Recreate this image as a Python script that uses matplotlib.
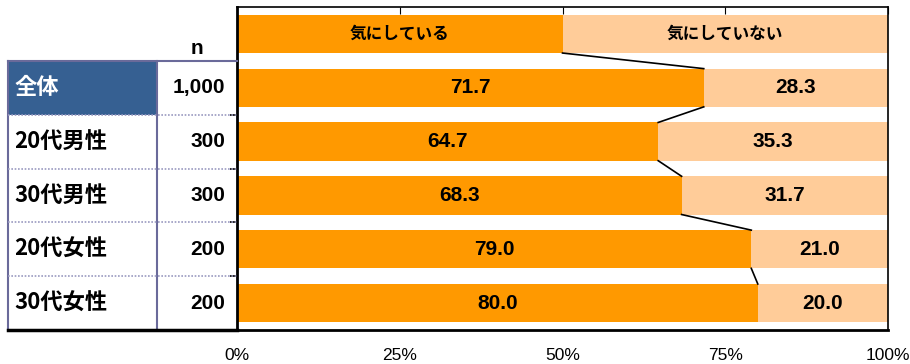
import matplotlib.pyplot as plt
from matplotlib.patches import Rectangle

groups = ["全体", "20代男性", "30代男性", "20代女性", "30代女性"]
n_counts = ["1,000", "300", "300", "200", "200"]
care = [71.7, 64.7, 68.3, 79.0, 80.0]
not_care = [28.3, 35.3, 31.7, 21.0, 20.0]
legend_labels = ["気にしている", "気にしていない"]
x_ticks = [0, 25, 50, 75, 100]

ORANGE = "#FF9900"
PEACH = "#FFCC99"
BORDER = "#6A6A9A"
HEAD_BLUE = "#366092"
JP = ["Noto Sans CJK JP", "DejaVu Sans"]
NARROW = ["Liberation Sans Narrow", "Liberation Sans", "DejaVu Sans"]

W, H = 910, 364
fig = plt.figure(figsize=(W / 100, H / 100), dpi=100)

left, right, top, bot = 237, 888, 7, 330
ax = fig.add_axes([left / W, 1 - bot / H, (right - left) / W, (bot - top) / H])
bh = 0.71

# header row doubles as the legend
ax.barh(0, 50, height=bh, color=ORANGE)
ax.barh(0, 50, left=50, height=bh, color=PEACH)
ax.text(25, 0, legend_labels[0], ha="center", va="center", family=JP,
        fontweight="bold", fontsize=12)
ax.text(75, 0, legend_labels[1], ha="center", va="center", family=JP,
        fontweight="bold", fontsize=12)

rows = range(1, len(groups) + 1)
ax.barh(list(rows), care, height=bh, color=ORANGE)
ax.barh(list(rows), not_care, left=care, height=bh, color=PEACH)
for r, a, b in zip(rows, care, not_care):
    ax.text(a / 2, r, f"{a:.1f}", ha="center", va="center", family=NARROW,
            fontweight="bold", fontsize=15)
    ax.text(a + b / 2, r, f"{b:.1f}", ha="center", va="center", family=NARROW,
            fontweight="bold", fontsize=15)

# connector lines between the split points
splits = [50] + care
for i in range(len(splits) - 1):
    ax.plot([splits[i], splits[i + 1]], [i + bh / 2, i + 1 - bh / 2],
            color="black", lw=1.2)

ax.set_xlim(0, 100)
ax.set_ylim(len(groups) + 0.5, -0.5)
ax.set_xticks(x_ticks)
ax.set_xticklabels([f"{t}%" for t in x_ticks], family=NARROW, fontsize=12.5)
ax.tick_params(axis="x", top=True, bottom=False, direction="in", length=5,
               labelbottom=True, pad=13)
ax.set_yticks([i + 0.5 for i in range(len(groups))])
ax.set_yticklabels([])
ax.tick_params(axis="y", direction="out", length=5, width=1.2)
ax.spines["left"].set_linewidth(2)
ax.spines["bottom"].set_linewidth(2)
ax.spines["top"].set_linewidth(1.2)
ax.spines["right"].set_linewidth(1.2)

# side table with group names and sample sizes
tl = 8
tax = fig.add_axes([tl / W, 1 - bot / H, (left - tl) / W, (bot - top) / H])
tax.set_xlim(0, 1)
tax.set_ylim(len(groups) + 0.5, -0.5)
tax.axis("off")
col = (157 - tl) / (left - tl)

tax.add_patch(Rectangle((0, 0.5), col, 1, facecolor=HEAD_BLUE,
                        edgecolor="none"))
tax.plot([0, 0], [0.5, 5.5], color=BORDER, lw=1.5, clip_on=False)
tax.plot([0, 1], [0.5, 0.5], color=BORDER, lw=1.5, clip_on=False)
tax.plot([col, col], [0.5, 5.5], color=BORDER, lw=1.5, clip_on=False)
for y in [1.5, 2.5, 3.5, 4.5]:
    tax.plot([0, 1], [y, y], color="#9A9AC0", lw=1.2, ls=(0, (1, 1)),
             clip_on=False)
tax.plot([0, 1], [5.5, 5.5], color="black", lw=2.5, clip_on=False)

tax.text((col + 1) / 2, 0.27, "n", ha="center", va="center",
         family=["Liberation Sans", "DejaVu Sans"], fontweight="bold",
         fontsize=15)
for r, g, n in zip(rows, groups, n_counts):
    tax.text(0.028, r, g, ha="left", va="center", family=JP,
             fontweight="bold", fontsize=16,
             color="white" if r == 1 else "black")
    tax.text(0.95, r, n, ha="right", va="center",
             family=["Liberation Sans", "DejaVu Sans"], fontweight="bold",
             fontsize=15)

fig.savefig("out.png", dpi=100)
